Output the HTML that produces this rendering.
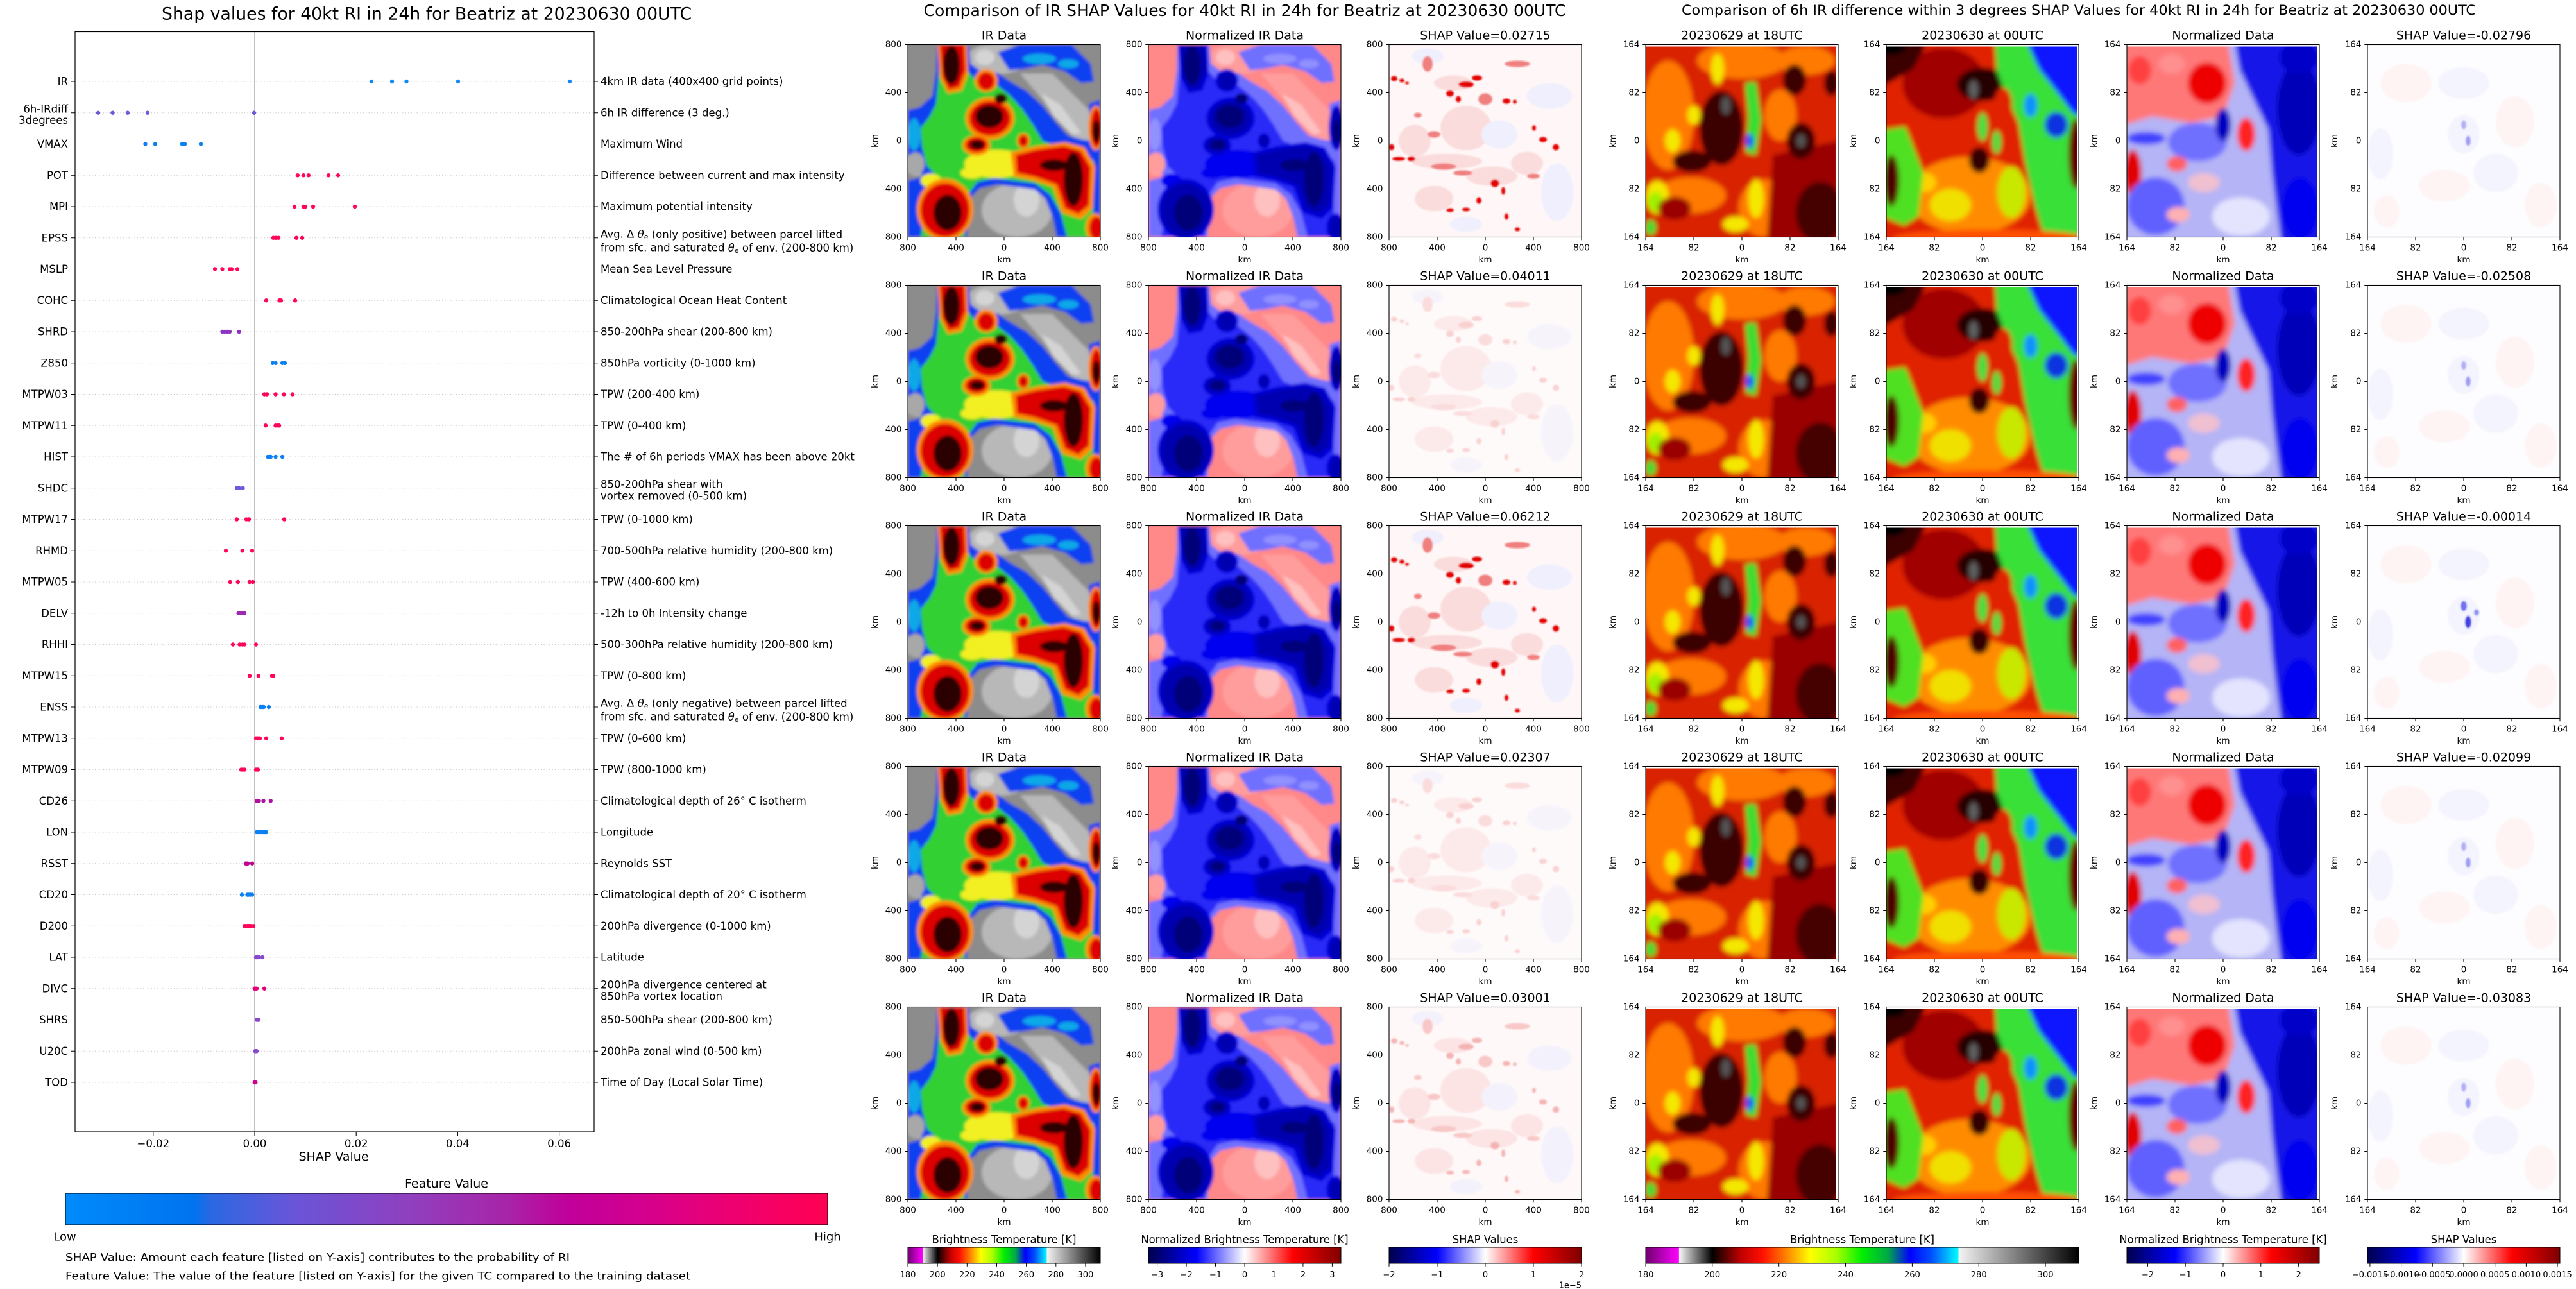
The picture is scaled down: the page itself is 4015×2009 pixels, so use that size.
<!DOCTYPE html>
<html><head><meta charset="utf-8">
<style>
html,body{margin:0;padding:0;background:#fff;}
svg{display:block}
text{font-family:"DejaVu Sans","Liberation Sans",sans-serif;fill:#000}
.ti{font-size:19px;text-anchor:middle;dominant-baseline:central}
.yt{font-size:13.5px;text-anchor:end;dominant-baseline:central}
.xt{font-size:13.5px;text-anchor:middle;dominant-baseline:central}
.ll{font-size:16.5px;text-anchor:end;dominant-baseline:central}
.rl{font-size:16.5px;text-anchor:start;dominant-baseline:central}
.bt{font-size:16.5px;text-anchor:middle;dominant-baseline:central}
.cbt{font-size:16.4px;text-anchor:middle;dominant-baseline:central}
.cbl{font-size:13px;text-anchor:middle;dominant-baseline:central}
.big{text-anchor:middle;dominant-baseline:central}
</style></head>
<body>
<svg width="4015" height="2009" viewBox="0 0 4015 2009" xmlns="http://www.w3.org/2000/svg">
<defs>
<clipPath id="cp"><rect width="300" height="300"/></clipPath>
<clipPath id="cq"><rect y="3" width="297" height="297"/></clipPath>
<filter id="bl" x="-10%" y="-10%" width="120%" height="120%"><feGaussianBlur stdDeviation="2.5"/></filter>
<filter id="bl4" x="-10%" y="-10%" width="120%" height="120%"><feGaussianBlur stdDeviation="4"/></filter>
<filter id="b2" x="-10%" y="-10%" width="120%" height="120%"><feGaussianBlur stdDeviation="1.2"/></filter>

<linearGradient id="gshap">
<stop offset="0" stop-color="#008bfb"/><stop offset="0.17" stop-color="#0073ef"/><stop offset="0.19" stop-color="#2a68e2"/><stop offset="0.3" stop-color="#6a55d8"/><stop offset="0.45" stop-color="#8f40bf"/><stop offset="0.58" stop-color="#a824a8"/><stop offset="0.66" stop-color="#c0009a"/><stop offset="0.75" stop-color="#d20090"/><stop offset="0.88" stop-color="#ef0070"/><stop offset="1" stop-color="#ff0052"/>
</linearGradient>
<linearGradient id="gbt">
<stop offset="0" stop-color="#6e006e"/><stop offset="0.0765" stop-color="#ff00ff"/><stop offset="0.077" stop-color="#f8f8f8"/><stop offset="0.154" stop-color="#000"/><stop offset="0.17" stop-color="#300000"/><stop offset="0.22" stop-color="#c00000"/><stop offset="0.27" stop-color="#ff1000"/><stop offset="0.32" stop-color="#ff7800"/><stop offset="0.38" stop-color="#ffff00"/><stop offset="0.44" stop-color="#a8ff00"/><stop offset="0.5" stop-color="#00f000"/><stop offset="0.56" stop-color="#00a848"/><stop offset="0.61" stop-color="#0000ff"/><stop offset="0.66" stop-color="#0050ff"/><stop offset="0.722" stop-color="#00ffff"/><stop offset="0.7225" stop-color="#f4f4f4"/><stop offset="1" stop-color="#000"/>
</linearGradient>
<linearGradient id="gsei">
<stop offset="0" stop-color="#00004c"/><stop offset="0.25" stop-color="#0000ff"/><stop offset="0.5" stop-color="#ffffff"/><stop offset="0.75" stop-color="#ff0000"/><stop offset="1" stop-color="#7f0000"/>
</linearGradient>

<!-- IR geometry layers -->
<g id="a0b"><ellipse cx="140" cy="22" rx="48" ry="24"/><polygon points="175,45 225,45 290,110 290,150 262,148 235,118 205,80"/><ellipse cx="170" cy="258" rx="55" ry="42"/><ellipse cx="14" cy="185" rx="18" ry="20"/></g>
<g id="a0c"><ellipse cx="185" cy="242" rx="20" ry="26"/><polygon points="208,76 238,94 270,138 255,140 226,110"/><ellipse cx="120" cy="20" rx="15" ry="12"/></g>
<g id="a1"><polygon points="45,0 95,0 98,30 118,45 140,44 160,58 185,72 210,95 232,122 250,142 272,148 300,152 300,300 232,300 226,270 214,240 198,226 170,222 140,218 112,224 96,240 92,300 0,300 0,212 22,206 18,185 0,172 0,102 18,98 38,80 44,40"/><polygon points="140,12 175,0 255,0 285,30 290,58 270,60 245,42 210,32 180,38 158,40"/><polygon points="282,92 300,86 300,180 286,172"/></g>
<g id="a2"><polygon points="50,0 90,0 92,40 110,60 140,64 160,80 178,100 195,125 210,150 240,162 270,168 290,182 288,300 248,300 238,262 222,234 198,216 165,212 135,208 108,214 94,234 88,300 20,300 28,250 40,222 46,205 30,190 22,160 20,130 34,112 44,92 48,50"/></g>
<g id="a2b"><ellipse cx="205" cy="22" rx="26" ry="8"/><ellipse cx="250" cy="30" rx="16" ry="7"/><ellipse cx="10" cy="140" rx="10" ry="25"/></g>
<g id="a7"><ellipse cx="12" cy="186" rx="14" ry="18"/></g>
<g id="a3"><ellipse cx="138" cy="186" rx="50" ry="22"/><ellipse cx="200" cy="180" rx="26" ry="14"/><ellipse cx="36" cy="212" rx="16" ry="11"/><ellipse cx="100" cy="200" rx="18" ry="9"/></g>
<g id="a4"><polygon points="46,0 92,0 94,45 84,72 62,76 50,52"/><ellipse cx="122" cy="56" rx="18" ry="18"/><ellipse cx="128" cy="115" rx="38" ry="33"/><ellipse cx="107" cy="157" rx="22" ry="16"/><ellipse cx="180" cy="150" rx="10" ry="12"/><polygon points="160,168 200,158 245,152 275,160 292,190 288,255 270,272 240,262 226,222 196,212 165,206"/><ellipse cx="58" cy="257" rx="44" ry="48"/><ellipse cx="293" cy="130" rx="12" ry="35"/><ellipse cx="292" cy="285" rx="15" ry="22"/></g>
<g id="a5"><polygon points="50,0 88,0 90,40 80,66 64,70 54,50"/><ellipse cx="122" cy="57" rx="13" ry="14"/><ellipse cx="128" cy="115" rx="32" ry="27"/><ellipse cx="107" cy="156" rx="17" ry="12"/><ellipse cx="180" cy="150" rx="7" ry="9"/><polygon points="168,172 200,164 243,158 270,166 285,192 282,250 266,264 245,255 232,218 198,206 170,200"/><ellipse cx="58" cy="258" rx="38" ry="42"/><ellipse cx="294" cy="130" rx="9" ry="30"/><ellipse cx="294" cy="286" rx="11" ry="18"/></g>
<g id="a6"><ellipse cx="68" cy="32" rx="13" ry="30"/><ellipse cx="145" cy="84" rx="10" ry="8"/><ellipse cx="127" cy="112" rx="22" ry="18"/><ellipse cx="108" cy="156" rx="11" ry="7"/><ellipse cx="258" cy="210" rx="15" ry="42"/><ellipse cx="62" cy="262" rx="22" ry="28"/><ellipse cx="228" cy="188" rx="22" ry="9"/><ellipse cx="294" cy="135" rx="6" ry="18"/></g>

<g id="ir" clip-path="url(#cp)"><g filter="url(#bl)"><rect x="-20" y="-20" width="340" height="340" fill="#8c8c8c"/><use href="#a0b" fill="#b8b8b8"/><use href="#a0c" fill="#d4d4d4"/><use href="#a1" fill="#1040f0"/><use href="#a2" fill="#30d030"/><use href="#a2b" fill="#10a8e8"/><use href="#a7" fill="#a8a8a8"/><use href="#a3" fill="#f2f020"/><use href="#a4" fill="#ff8c00"/><use href="#a5" fill="#dc0000"/><use href="#a6" fill="#2a0000"/></g></g>
<g id="nir" clip-path="url(#cp)"><g filter="url(#bl)"><rect x="-20" y="-20" width="340" height="340" fill="#ff8888"/><use href="#a0b" fill="#ff9c9c"/><use href="#a0c" fill="#ffc0c0"/><use href="#a1" fill="#7070ff"/><use href="#a2" fill="#2a2af8"/><use href="#a2b" fill="#9090ff"/><use href="#a7" fill="#ff9c9c"/><use href="#a3" fill="#0000f0"/><use href="#a4" fill="#0000d8"/><use href="#a5" fill="#0000b0"/><use href="#a6" fill="#000078"/></g></g>

<!-- SHAP middle -->
<g id="shpat">
<g fill="#fbdcdc"><ellipse cx="120" cy="130" rx="40" ry="35"/><ellipse cx="90" cy="182" rx="55" ry="12"/><ellipse cx="160" cy="205" rx="40" ry="15"/><ellipse cx="215" cy="185" rx="25" ry="18"/><ellipse cx="70" cy="240" rx="30" ry="20"/><ellipse cx="100" cy="60" rx="30" ry="12"/><ellipse cx="40" cy="150" rx="25" ry="25"/></g>
<g fill="#efeffd"><ellipse cx="172" cy="140" rx="28" ry="22"/><ellipse cx="262" cy="230" rx="25" ry="45"/><ellipse cx="60" cy="18" rx="25" ry="12"/><ellipse cx="250" cy="80" rx="35" ry="20"/><ellipse cx="120" cy="280" rx="25" ry="12"/></g>
</g>
<g id="spk"><ellipse cx="8" cy="53" rx="5" ry="4"/><ellipse cx="20" cy="56" rx="4" ry="3"/><ellipse cx="28" cy="60" rx="3" ry="2"/><ellipse cx="95" cy="76" rx="6" ry="5"/><ellipse cx="108" cy="85" rx="4" ry="5"/><ellipse cx="120" cy="62" rx="12" ry="5"/><ellipse cx="137" cy="52" rx="8" ry="4"/><ellipse cx="183" cy="88" rx="6" ry="4"/><ellipse cx="196" cy="89" rx="3" ry="3"/><ellipse cx="4" cy="160" rx="4" ry="5"/><ellipse cx="15" cy="178" rx="10" ry="3"/><ellipse cx="35" cy="178" rx="6" ry="4"/><ellipse cx="226" cy="130" rx="3" ry="4"/><ellipse cx="240" cy="148" rx="6" ry="4"/><ellipse cx="260" cy="160" rx="5" ry="5"/><ellipse cx="165" cy="216" rx="7" ry="6"/><ellipse cx="178" cy="228" rx="3" ry="6"/><ellipse cx="140" cy="243" rx="4" ry="5"/><ellipse cx="120" cy="257" rx="6" ry="3"/><ellipse cx="95" cy="258" rx="6" ry="3"/><ellipse cx="183" cy="268" rx="3" ry="5"/><ellipse cx="200" cy="288" rx="4" ry="3"/></g>
<g id="spk2"><ellipse cx="150" cy="85" rx="11" ry="9"/><ellipse cx="85" cy="190" rx="20" ry="5"/><ellipse cx="115" cy="200" rx="15" ry="4"/><ellipse cx="225" cy="205" rx="10" ry="4"/><ellipse cx="70" cy="140" rx="10" ry="5"/><ellipse cx="45" cy="110" rx="6" ry="4"/><ellipse cx="60" cy="30" rx="8" ry="12"/><ellipse cx="200" cy="30" rx="20" ry="5"/></g>
<g id="shs" clip-path="url(#cp)"><rect width="300" height="300" fill="#fff7f7"/><g filter="url(#b2)"><use href="#shpat"/><use href="#spk2" fill="#f08080"/><use href="#spk" fill="#e40000"/></g></g>
<g id="shf" clip-path="url(#cp)"><rect width="300" height="300" fill="#fffafa"/><g filter="url(#b2)" opacity="0.55"><use href="#shpat"/><use href="#spk2" fill="#f8c4c4"/><use href="#spk" fill="#f4b0b0"/></g></g>
<g id="shf2" clip-path="url(#cp)"><rect width="300" height="300" fill="#fff8f8"/><g filter="url(#b2)" opacity="0.7"><use href="#shpat"/><use href="#spk2" fill="#f6b4b4"/><use href="#spk" fill="#f09898"/></g></g>

<!-- right group images -->
<g id="t18" clip-path="url(#cq)"><g filter="url(#bl4)"><rect x="-20" y="-20" width="340" height="340" fill="#d82000"/>
<g fill="#ff7a00"><ellipse cx="35" cy="110" rx="40" ry="85"/><ellipse cx="150" cy="25" rx="70" ry="28"/><ellipse cx="70" cy="235" rx="55" ry="28"/><ellipse cx="185" cy="255" rx="40" ry="45"/><ellipse cx="250" cy="25" rx="45" ry="22"/><ellipse cx="210" cy="110" rx="25" ry="40"/></g>
<g fill="#f4e800"><ellipse cx="18" cy="238" rx="18" ry="26"/><ellipse cx="112" cy="38" rx="10" ry="24"/><ellipse cx="42" cy="150" rx="12" ry="18"/><ellipse cx="172" cy="240" rx="12" ry="30"/><ellipse cx="140" cy="280" rx="20" ry="12"/><ellipse cx="75" cy="110" rx="10" ry="15"/></g>
<ellipse cx="15" cy="245" rx="12" ry="15" fill="#a0f000"/>
<polygon points="155,60 172,58 180,118 172,172 156,168 160,112" fill="#30e030"/><ellipse cx="8" cy="285" rx="8" ry="12" fill="#30e030"/>
<ellipse cx="162" cy="150" rx="6" ry="11" fill="#1050ff"/>
<polygon points="198,172 300,150 300,320 188,320" fill="#9a0000"/><ellipse cx="45" cy="255" rx="26" ry="18" fill="#9a0000"/>
<ellipse cx="272" cy="262" rx="38" ry="48" fill="#450000"/>
<g fill="#3a0000"><ellipse cx="118" cy="130" rx="34" ry="58"/><ellipse cx="72" cy="182" rx="30" ry="17"/><ellipse cx="232" cy="55" rx="18" ry="24"/><ellipse cx="242" cy="150" rx="22" ry="28"/><ellipse cx="290" cy="60" rx="12" ry="20"/></g>
<g fill="#555"><ellipse cx="125" cy="95" rx="7" ry="14"/><ellipse cx="242" cy="150" rx="7" ry="10"/></g>
</g></g>
<g id="t00" clip-path="url(#cq)"><g filter="url(#bl4)"><rect x="-20" y="-20" width="340" height="340" fill="#e02000"/>
<ellipse cx="90" cy="60" rx="65" ry="55" fill="#a00000"/>
<polygon points="-20,-20 62,-20 62,0 42,38 0,62 -20,62" fill="#3a0000"/><ellipse cx="8" cy="4" rx="22" ry="12" fill="#000"/>
<ellipse cx="150" cy="62" rx="40" ry="26" fill="#250000"/><ellipse cx="136" cy="70" rx="7" ry="14" fill="#606060"/>
<ellipse cx="130" cy="235" rx="95" ry="60" fill="#ff8c00"/>
<ellipse cx="100" cy="250" rx="32" ry="25" fill="#f0e000"/><ellipse cx="195" cy="230" rx="22" ry="40" fill="#c8e800"/><ellipse cx="60" cy="215" rx="18" ry="15" fill="#ffd000"/>
<polygon points="168,-20 320,-20 320,320 252,320 232,252 216,182 206,122 188,82 172,40" fill="#38e038"/>
<polygon points="212,-20 320,-20 320,115 292,108 266,74 238,38" fill="#0818ff"/><ellipse cx="265" cy="125" rx="18" ry="20" fill="#1030e0"/><ellipse cx="225" cy="95" rx="10" ry="18" fill="#1090ff"/>
<ellipse cx="182" cy="92" rx="14" ry="25" fill="#e02000"/>
<ellipse cx="296" cy="170" rx="12" ry="55" fill="#600000"/>
<polygon points="-20,135 30,128 58,200 50,268 28,282 -20,262" fill="#50e020"/><ellipse cx="8" cy="212" rx="12" ry="40" fill="#500000"/>
<ellipse cx="145" cy="180" rx="16" ry="20" fill="#300000"/>
<ellipse cx="150" cy="128" rx="8" ry="22" fill="#40e040"/><ellipse cx="172" cy="152" rx="7" ry="18" fill="#40e040"/>
<ellipse cx="160" cy="302" rx="150" ry="14" fill="#ff5000"/>
</g></g>
<g id="nrm" clip-path="url(#cq)"><g filter="url(#bl4)"><rect x="-20" y="-20" width="340" height="340" fill="#b4b4f6"/>
<polygon points="-20,-20 155,-20 168,60 150,112 100,122 40,112 -20,130" fill="#ff7878"/>
<ellipse cx="125" cy="60" rx="30" ry="32" fill="#ee0000"/><ellipse cx="20" cy="40" rx="18" ry="22" fill="#ff4040"/><ellipse cx="70" cy="30" rx="20" ry="15" fill="#ff9090"/>
<polygon points="165,-20 320,-20 320,320 242,320 226,200 220,132 196,82 176,40" fill="#1818e8"/>
<ellipse cx="268" cy="100" rx="34" ry="72" fill="#0000b8"/><ellipse cx="268" cy="20" rx="30" ry="25" fill="#0000c8"/>
<ellipse cx="270" cy="255" rx="28" ry="48" fill="#0000f0"/>
<ellipse cx="178" cy="268" rx="45" ry="30" fill="#e4e4ff"/>
<ellipse cx="110" cy="152" rx="46" ry="30" fill="#7070ff"/><ellipse cx="150" cy="125" rx="12" ry="26" fill="#0000c0"/>
<ellipse cx="186" cy="140" rx="14" ry="26" fill="#ff2020"/>
<ellipse cx="9" cy="200" rx="14" ry="36" fill="#e00000"/>
<ellipse cx="30" cy="146" rx="30" ry="10" fill="#4040ff"/>
<ellipse cx="45" cy="252" rx="45" ry="45" fill="#6060ff"/><ellipse cx="80" cy="265" rx="18" ry="12" fill="#ffb0b0"/>
<ellipse cx="78" cy="186" rx="16" ry="12" fill="#ff6060"/>
<ellipse cx="120" cy="215" rx="25" ry="15" fill="#f0c0d0"/>
</g></g>
<g id="shrp"><g fill="#fef4f4"><ellipse cx="60" cy="60" rx="40" ry="30"/><ellipse cx="230" cy="120" rx="30" ry="40"/><ellipse cx="120" cy="220" rx="40" ry="25"/><ellipse cx="270" cy="250" rx="25" ry="35"/><ellipse cx="30" cy="260" rx="20" ry="25"/></g><g fill="#f4f4fe"><ellipse cx="150" cy="60" rx="40" ry="25"/><ellipse cx="20" cy="170" rx="20" ry="40"/><ellipse cx="200" cy="200" rx="35" ry="30"/><ellipse cx="150" cy="140" rx="25" ry="30"/></g></g>
<g id="shr" clip-path="url(#cq)"><rect y="3" width="297" height="297" fill="#fdfdff"/><g filter="url(#b2)"><use href="#shrp"/><ellipse cx="150" cy="125" rx="4" ry="7" fill="#b0b0f6"/><ellipse cx="157" cy="150" rx="4" ry="8" fill="#9c9cf2"/></g></g>
<g id="shr3" clip-path="url(#cq)"><rect y="3" width="297" height="297" fill="#fdfdff"/><g filter="url(#b2)"><use href="#shrp"/><ellipse cx="150" cy="125" rx="5" ry="8" fill="#7070f0"/><ellipse cx="157" cy="150" rx="5" ry="10" fill="#4040e0"/><ellipse cx="170" cy="135" rx="4" ry="5" fill="#9090f0"/></g></g>

<g id="fr"><rect width="300" height="300" fill="none" stroke="#000" stroke-width="1.1"/><path d="M-4.7 0H0M-4.7 75H0M-4.7 150H0M-4.7 225H0M-4.7 300H0M0 300V304.7M75 300V304.7M150 300V304.7M225 300V304.7M300 300V304.7" stroke="#000" stroke-width="1.1"/></g>
</defs>

<rect width="4015" height="2009" fill="#fff"/>

<!-- ================= LEFT PANEL ================= -->
<text class="big" x="665" y="22" font-size="26.6" textLength="826" lengthAdjust="spacingAndGlyphs">Shap values for 40kt RI in 24h for Beatriz at 20230630 00UTC</text>
<path d="M117 127H926M117 175.75H926M117 224.5H926M117 273.25H926M117 322H926M117 370.75H926M117 419.5H926M117 468.25H926M117 517H926M117 565.75H926M117 614.5H926M117 663.25H926M117 712H926M117 760.75H926M117 809.5H926M117 858.25H926M117 907H926M117 955.75H926M117 1004.5H926M117 1053.25H926M117 1102H926M117 1150.75H926M117 1199.5H926M117 1248.25H926M117 1297H926M117 1345.75H926M117 1394.5H926M117 1443.25H926M117 1492H926M117 1540.75H926M117 1589.5H926M117 1638.25H926M117 1687H926" stroke="#c4c4c4" stroke-width="1" stroke-dasharray="1.2 3.2" fill="none"/>
<line x1="397" y1="49.5" x2="397" y2="1764" stroke="#999" stroke-width="1.2"/>
<rect x="117" y="49.5" width="809" height="1714.5" fill="none" stroke="#000" stroke-width="1.2"/>
<path d="M111 127H117M926 127H932M111 175.75H117M926 175.75H932M111 224.5H117M926 224.5H932M111 273.25H117M926 273.25H932M111 322H117M926 322H932M111 370.75H117M926 370.75H932M111 419.5H117M926 419.5H932M111 468.25H117M926 468.25H932M111 517H117M926 517H932M111 565.75H117M926 565.75H932M111 614.5H117M926 614.5H932M111 663.25H117M926 663.25H932M111 712H117M926 712H932M111 760.75H117M926 760.75H932M111 809.5H117M926 809.5H932M111 858.25H117M926 858.25H932M111 907H117M926 907H932M111 955.75H117M926 955.75H932M111 1004.5H117M926 1004.5H932M111 1053.25H117M926 1053.25H932M111 1102H117M926 1102H932M111 1150.75H117M926 1150.75H932M111 1199.5H117M926 1199.5H932M111 1248.25H117M926 1248.25H932M111 1297H117M926 1297H932M111 1345.75H117M926 1345.75H932M111 1394.5H117M926 1394.5H932M111 1443.25H117M926 1443.25H932M111 1492H117M926 1492H932M111 1540.75H117M926 1540.75H932M111 1589.5H117M926 1589.5H932M111 1638.25H117M926 1638.25H932M111 1687H117M926 1687H932M238.8 1764V1770M397 1764V1770M555.2 1764V1770M713.4 1764V1770M871.6 1764V1770" stroke="#000" stroke-width="1.1"/>

<!-- dots -->
<g fill="#1188f5"><circle cx="579" cy="127" r="3.2"/><circle cx="611" cy="127" r="3.2"/><circle cx="633.5" cy="127" r="3.2"/><circle cx="714" cy="127" r="3.2"/><circle cx="888" cy="127" r="3.2"/></g>
<g fill="#7058d8"><circle cx="153" cy="175.75" r="3.2"/><circle cx="175.5" cy="175.75" r="3.2"/><circle cx="199" cy="175.75" r="3.2"/><circle cx="230" cy="175.75" r="3.2"/><circle cx="396" cy="175.75" r="3.2"/></g>
<g fill="#0c7ff2"><circle cx="226.5" cy="224.5" r="3.2"/><circle cx="242" cy="224.5" r="3.2"/><circle cx="284" cy="224.5" r="3.2"/><circle cx="288" cy="224.5" r="3.2"/><circle cx="313" cy="224.5" r="3.2"/></g>
<g fill="#ff0658">
<circle cx="464" cy="273.25" r="3.2"/><circle cx="473" cy="273.25" r="3.2"/><circle cx="481" cy="273.25" r="3.2"/><circle cx="512" cy="273.25" r="3.2"/><circle cx="527" cy="273.25" r="3.2"/>
<circle cx="459" cy="322" r="3.2"/><circle cx="473" cy="322" r="3.2"/><circle cx="476" cy="322" r="3.2"/><circle cx="488" cy="322" r="3.2"/><circle cx="553" cy="322" r="3.2"/>
<circle cx="426" cy="370.75" r="3.2"/><circle cx="430" cy="370.75" r="3.2"/><circle cx="434" cy="370.75" r="3.2"/><circle cx="462" cy="370.75" r="3.2"/><circle cx="471" cy="370.75" r="3.2"/>
<circle cx="335" cy="419.5" r="3.2"/><circle cx="346.5" cy="419.5" r="3.2"/><circle cx="358" cy="419.5" r="3.2"/><circle cx="361" cy="419.5" r="3.2"/><circle cx="370" cy="419.5" r="3.2"/>
<circle cx="415" cy="468.25" r="3.2"/><circle cx="435.5" cy="468.25" r="3.2"/><circle cx="438" cy="468.25" r="3.2"/><circle cx="460" cy="468.25" r="3.2"/>
<circle cx="412" cy="614.5" r="3.2"/><circle cx="416" cy="614.5" r="3.2"/><circle cx="429.5" cy="614.5" r="3.2"/><circle cx="442.5" cy="614.5" r="3.2"/><circle cx="456" cy="614.5" r="3.2"/>
<circle cx="414" cy="663.25" r="3.2"/><circle cx="429.5" cy="663.25" r="3.2"/><circle cx="433" cy="663.25" r="3.2"/><circle cx="435" cy="663.25" r="3.2"/>
<circle cx="369" cy="809.5" r="3.2"/><circle cx="384" cy="809.5" r="3.2"/><circle cx="388" cy="809.5" r="3.2"/><circle cx="443" cy="809.5" r="3.2"/>
<circle cx="352" cy="858.25" r="3.2"/><circle cx="377.7" cy="858.25" r="3.2"/><circle cx="393" cy="858.25" r="3.2"/>
<circle cx="358.7" cy="907" r="3.2"/><circle cx="370.8" cy="907" r="3.2"/><circle cx="389" cy="907" r="3.2"/><circle cx="394" cy="907" r="3.2"/>
<circle cx="363" cy="1004.5" r="3.2"/><circle cx="373.4" cy="1004.5" r="3.2"/><circle cx="378" cy="1004.5" r="3.2"/><circle cx="381" cy="1004.5" r="3.2"/><circle cx="399" cy="1004.5" r="3.2"/>
<circle cx="389" cy="1053.25" r="3.2"/><circle cx="402.8" cy="1053.25" r="3.2"/><circle cx="424" cy="1053.25" r="3.2"/><circle cx="426" cy="1053.25" r="3.2"/>
<circle cx="399" cy="1150.75" r="3.2"/><circle cx="402" cy="1150.75" r="3.2"/><circle cx="405" cy="1150.75" r="3.2"/><circle cx="415" cy="1150.75" r="3.2"/><circle cx="439" cy="1150.75" r="3.2"/>
<circle cx="376" cy="1199.5" r="3.2"/><circle cx="378.5" cy="1199.5" r="3.2"/><circle cx="381" cy="1199.5" r="3.2"/><circle cx="399" cy="1199.5" r="3.2"/><circle cx="402" cy="1199.5" r="3.2"/>
<circle cx="381" cy="1443.25" r="3.2"/><circle cx="383" cy="1443.25" r="3.2"/><circle cx="386" cy="1443.25" r="3.2"/><circle cx="388" cy="1443.25" r="3.2"/><circle cx="390.7" cy="1443.25" r="3.2"/><circle cx="395" cy="1443.25" r="3.2"/>
</g>
<g fill="#8c35c2"><circle cx="346.5" cy="517" r="3.2"/><circle cx="350" cy="517" r="3.2"/><circle cx="354" cy="517" r="3.2"/><circle cx="358" cy="517" r="3.2"/><circle cx="372.5" cy="517" r="3.2"/></g>
<g fill="#0a80f4"><circle cx="425" cy="565.75" r="3.2"/><circle cx="429.5" cy="565.75" r="3.2"/><circle cx="440" cy="565.75" r="3.2"/><circle cx="444" cy="565.75" r="3.2"/>
<circle cx="417.5" cy="712" r="3.2"/><circle cx="420" cy="712" r="3.2"/><circle cx="422" cy="712" r="3.2"/><circle cx="429.5" cy="712" r="3.2"/><circle cx="440" cy="712" r="3.2"/>
<circle cx="406" cy="1102" r="3.2"/><circle cx="409" cy="1102" r="3.2"/><circle cx="411" cy="1102" r="3.2"/><circle cx="419" cy="1102" r="3.2"/>
<circle cx="400" cy="1297" r="3.2"/><circle cx="403" cy="1297" r="3.2"/><circle cx="405" cy="1297" r="3.2"/><circle cx="408" cy="1297" r="3.2"/><circle cx="410.5" cy="1297" r="3.2"/><circle cx="413" cy="1297" r="3.2"/><circle cx="415" cy="1297" r="3.2"/>
<circle cx="377" cy="1394.5" r="3.2"/><circle cx="385.5" cy="1394.5" r="3.2"/><circle cx="388" cy="1394.5" r="3.2"/><circle cx="390" cy="1394.5" r="3.2"/><circle cx="393" cy="1394.5" r="3.2"/></g>
<g fill="#6e5ad8"><circle cx="369" cy="760.75" r="3.2"/><circle cx="372.5" cy="760.75" r="3.2"/><circle cx="378.5" cy="760.75" r="3.2"/></g>
<g fill="#9c2ab2"><circle cx="371.6" cy="955.75" r="3.2"/><circle cx="374" cy="955.75" r="3.2"/><circle cx="376" cy="955.75" r="3.2"/><circle cx="378.5" cy="955.75" r="3.2"/><circle cx="381" cy="955.75" r="3.2"/></g>
<g fill="#b0109e"><circle cx="400" cy="1248.25" r="3.2"/><circle cx="403.6" cy="1248.25" r="3.2"/><circle cx="410.5" cy="1248.25" r="3.2"/><circle cx="421.8" cy="1248.25" r="3.2"/></g>
<g fill="#c0038f"><circle cx="383" cy="1345.75" r="3.2"/><circle cx="385" cy="1345.75" r="3.2"/><circle cx="386" cy="1345.75" r="3.2"/><circle cx="393" cy="1345.75" r="3.2"/></g>
<g fill="#8648cc"><circle cx="399" cy="1492" r="3.2"/><circle cx="401" cy="1492" r="3.2"/><circle cx="403.6" cy="1492" r="3.2"/><circle cx="409" cy="1492" r="3.2"/>
<circle cx="400" cy="1589.5" r="3.2"/><circle cx="402" cy="1589.5" r="3.2"/><circle cx="403" cy="1589.5" r="3.2"/>
<circle cx="397.6" cy="1638.25" r="3.2"/><circle cx="399" cy="1638.25" r="3.2"/><circle cx="400" cy="1638.25" r="3.2"/></g>
<g fill="#e00276"><circle cx="396.7" cy="1540.75" r="3.2"/><circle cx="398" cy="1540.75" r="3.2"/><circle cx="400" cy="1540.75" r="3.2"/><circle cx="412" cy="1540.75" r="3.2"/></g>
<g fill="#d0008a"><circle cx="396.7" cy="1687" r="3.2"/><circle cx="398.4" cy="1687" r="3.2"/></g>

<!-- left labels -->
<text class="ll" x="106" y="127">IR</text>
<text class="ll" x="106" y="170">6h-IRdiff</text>
<text class="ll" x="106" y="187.5">3degrees</text>
<text class="ll" x="106" y="224.5">VMAX</text>
<text class="ll" x="106" y="273.25">POT</text>
<text class="ll" x="106" y="322">MPI</text>
<text class="ll" x="106" y="370.75">EPSS</text>
<text class="ll" x="106" y="419.5">MSLP</text>
<text class="ll" x="106" y="468.25">COHC</text>
<text class="ll" x="106" y="517">SHRD</text>
<text class="ll" x="106" y="565.75">Z850</text>
<text class="ll" x="106" y="614.5">MTPW03</text>
<text class="ll" x="106" y="663.25">MTPW11</text>
<text class="ll" x="106" y="712">HIST</text>
<text class="ll" x="106" y="760.75">SHDC</text>
<text class="ll" x="106" y="809.5">MTPW17</text>
<text class="ll" x="106" y="858.25">RHMD</text>
<text class="ll" x="106" y="907">MTPW05</text>
<text class="ll" x="106" y="955.75">DELV</text>
<text class="ll" x="106" y="1004.5">RHHI</text>
<text class="ll" x="106" y="1053.25">MTPW15</text>
<text class="ll" x="106" y="1102">ENSS</text>
<text class="ll" x="106" y="1150.75">MTPW13</text>
<text class="ll" x="106" y="1199.5">MTPW09</text>
<text class="ll" x="106" y="1248.25">CD26</text>
<text class="ll" x="106" y="1297">LON</text>
<text class="ll" x="106" y="1345.75">RSST</text>
<text class="ll" x="106" y="1394.5">CD20</text>
<text class="ll" x="106" y="1443.25">D200</text>
<text class="ll" x="106" y="1492">LAT</text>
<text class="ll" x="106" y="1540.75">DIVC</text>
<text class="ll" x="106" y="1589.5">SHRS</text>
<text class="ll" x="106" y="1638.25">U20C</text>
<text class="ll" x="106" y="1687">TOD</text>

<!-- right labels -->
<text class="rl" x="936" y="127">4km IR data (400x400 grid points)</text>
<text class="rl" x="936" y="175.75">6h IR difference (3 deg.)</text>
<text class="rl" x="936" y="224.5">Maximum Wind</text>
<text class="rl" x="936" y="273.25">Difference between current and max intensity</text>
<text class="rl" x="936" y="322">Maximum potential intensity</text>
<text class="rl" x="936" y="364.75">Avg. Δ <tspan font-style="italic">θ</tspan><tspan font-size="11" dy="4">e</tspan><tspan dy="-4"> (only positive) between parcel lifted</tspan></text>
<text class="rl" x="936" y="385.75">from sfc. and saturated <tspan font-style="italic">θ</tspan><tspan font-size="11" dy="4">e</tspan><tspan dy="-4"> of env. (200-800 km)</tspan></text>
<text class="rl" x="936" y="419.5">Mean Sea Level Pressure</text>
<text class="rl" x="936" y="468.25">Climatological Ocean Heat Content</text>
<text class="rl" x="936" y="517">850-200hPa shear (200-800 km)</text>
<text class="rl" x="936" y="565.75">850hPa vorticity (0-1000 km)</text>
<text class="rl" x="936" y="614.5">TPW (200-400 km)</text>
<text class="rl" x="936" y="663.25">TPW (0-400 km)</text>
<text class="rl" x="936" y="712">The # of 6h periods VMAX has been above 20kt</text>
<text class="rl" x="936" y="754.75">850-200hPa shear with</text>
<text class="rl" x="936" y="772.75">vortex removed (0-500 km)</text>
<text class="rl" x="936" y="809.5">TPW (0-1000 km)</text>
<text class="rl" x="936" y="858.25">700-500hPa relative humidity (200-800 km)</text>
<text class="rl" x="936" y="907">TPW (400-600 km)</text>
<text class="rl" x="936" y="955.75">-12h to 0h Intensity change</text>
<text class="rl" x="936" y="1004.5">500-300hPa relative humidity (200-800 km)</text>
<text class="rl" x="936" y="1053.25">TPW (0-800 km)</text>
<text class="rl" x="936" y="1096">Avg. Δ <tspan font-style="italic">θ</tspan><tspan font-size="11" dy="4">e</tspan><tspan dy="-4"> (only negative) between parcel lifted</tspan></text>
<text class="rl" x="936" y="1117">from sfc. and saturated <tspan font-style="italic">θ</tspan><tspan font-size="11" dy="4">e</tspan><tspan dy="-4"> of env. (200-800 km)</tspan></text>
<text class="rl" x="936" y="1150.75">TPW (0-600 km)</text>
<text class="rl" x="936" y="1199.5">TPW (800-1000 km)</text>
<text class="rl" x="936" y="1248.25">Climatological depth of 26° C isotherm</text>
<text class="rl" x="936" y="1297">Longitude</text>
<text class="rl" x="936" y="1345.75">Reynolds SST</text>
<text class="rl" x="936" y="1394.5">Climatological depth of 20° C isotherm</text>
<text class="rl" x="936" y="1443.25">200hPa divergence (0-1000 km)</text>
<text class="rl" x="936" y="1492">Latitude</text>
<text class="rl" x="936" y="1534.75">200hPa divergence centered at</text>
<text class="rl" x="936" y="1552.75">850hPa vortex location</text>
<text class="rl" x="936" y="1589.5">850-500hPa shear (200-800 km)</text>
<text class="rl" x="936" y="1638.25">200hPa zonal wind (0-500 km)</text>
<text class="rl" x="936" y="1687">Time of Day (Local Solar Time)</text>

<text class="bt"><tspan x="238.8" y="1782">−0.02</tspan><tspan x="397" y="1782">0.00</tspan><tspan x="555.2" y="1782">0.02</tspan><tspan x="713.4" y="1782">0.04</tspan><tspan x="871.6" y="1782">0.06</tspan></text>
<text class="big" x="520" y="1803" font-size="19">SHAP Value</text>
<text class="big" x="696" y="1845" font-size="19">Feature Value</text>
<rect x="102" y="1860" width="1188" height="49" fill="url(#gshap)" stroke="#000" stroke-width="1"/>
<text class="big" x="101" y="1928" font-size="18">Low</text>
<text class="big" x="1290" y="1928" font-size="18">High</text>
<text x="102" y="1960" font-size="16.5" dominant-baseline="central" textLength="786" lengthAdjust="spacingAndGlyphs">SHAP Value: Amount each feature [listed on Y-axis] contributes to the probability of RI</text>
<text x="102" y="1989" font-size="16.5" dominant-baseline="central" textLength="974" lengthAdjust="spacingAndGlyphs">Feature Value: The value of the feature [listed on Y-axis] for the given TC compared to the training dataset</text>

<!-- ================= MIDDLE GROUP ================= -->
<text class="big" x="1940" y="16.7" font-size="25" textLength="1001" lengthAdjust="spacingAndGlyphs">Comparison of IR SHAP Values for 40kt RI in 24h for Beatriz at 20230630 00UTC</text>

<!-- row 1 -->
<g transform="translate(1415,69.5)"><use href="#ir"/><use href="#fr"/><text class="ti" x="150" y="-14">IR Data</text><text class="yt"><tspan x="-9.5" y="0">800</tspan><tspan x="-9.5" y="75">400</tspan><tspan x="-9.5" y="150">0</tspan><tspan x="-9.5" y="225">400</tspan><tspan x="-9.5" y="300">800</tspan></text><text class="xt"><tspan x="0" y="317">800</tspan><tspan x="75" y="317">400</tspan><tspan x="150" y="317">0</tspan><tspan x="225" y="317">400</tspan><tspan x="300" y="317">800</tspan><tspan x="150" y="335.5">km</tspan></text><text class="xt" transform="translate(-51,150) rotate(-90)">km</text></g>
<g transform="translate(1790,69.5)"><use href="#nir"/><use href="#fr"/><text class="ti" x="150" y="-14">Normalized IR Data</text><text class="yt"><tspan x="-9.5" y="0">800</tspan><tspan x="-9.5" y="75">400</tspan><tspan x="-9.5" y="150">0</tspan><tspan x="-9.5" y="225">400</tspan><tspan x="-9.5" y="300">800</tspan></text><text class="xt"><tspan x="0" y="317">800</tspan><tspan x="75" y="317">400</tspan><tspan x="150" y="317">0</tspan><tspan x="225" y="317">400</tspan><tspan x="300" y="317">800</tspan><tspan x="150" y="335.5">km</tspan></text><text class="xt" transform="translate(-51,150) rotate(-90)">km</text></g>
<g transform="translate(2165,69.5)"><use href="#shs"/><use href="#fr"/><text class="ti" x="150" y="-14">SHAP Value=0.02715</text><text class="yt"><tspan x="-9.5" y="0">800</tspan><tspan x="-9.5" y="75">400</tspan><tspan x="-9.5" y="150">0</tspan><tspan x="-9.5" y="225">400</tspan><tspan x="-9.5" y="300">800</tspan></text><text class="xt"><tspan x="0" y="317">800</tspan><tspan x="75" y="317">400</tspan><tspan x="150" y="317">0</tspan><tspan x="225" y="317">400</tspan><tspan x="300" y="317">800</tspan><tspan x="150" y="335.5">km</tspan></text><text class="xt" transform="translate(-51,150) rotate(-90)">km</text></g>
<!-- row 2 -->
<g transform="translate(1415,444.5)"><use href="#ir"/><use href="#fr"/><text class="ti" x="150" y="-14">IR Data</text><text class="yt"><tspan x="-9.5" y="0">800</tspan><tspan x="-9.5" y="75">400</tspan><tspan x="-9.5" y="150">0</tspan><tspan x="-9.5" y="225">400</tspan><tspan x="-9.5" y="300">800</tspan></text><text class="xt"><tspan x="0" y="317">800</tspan><tspan x="75" y="317">400</tspan><tspan x="150" y="317">0</tspan><tspan x="225" y="317">400</tspan><tspan x="300" y="317">800</tspan><tspan x="150" y="335.5">km</tspan></text><text class="xt" transform="translate(-51,150) rotate(-90)">km</text></g>
<g transform="translate(1790,444.5)"><use href="#nir"/><use href="#fr"/><text class="ti" x="150" y="-14">Normalized IR Data</text><text class="yt"><tspan x="-9.5" y="0">800</tspan><tspan x="-9.5" y="75">400</tspan><tspan x="-9.5" y="150">0</tspan><tspan x="-9.5" y="225">400</tspan><tspan x="-9.5" y="300">800</tspan></text><text class="xt"><tspan x="0" y="317">800</tspan><tspan x="75" y="317">400</tspan><tspan x="150" y="317">0</tspan><tspan x="225" y="317">400</tspan><tspan x="300" y="317">800</tspan><tspan x="150" y="335.5">km</tspan></text><text class="xt" transform="translate(-51,150) rotate(-90)">km</text></g>
<g transform="translate(2165,444.5)"><use href="#shf"/><use href="#fr"/><text class="ti" x="150" y="-14">SHAP Value=0.04011</text><text class="yt"><tspan x="-9.5" y="0">800</tspan><tspan x="-9.5" y="75">400</tspan><tspan x="-9.5" y="150">0</tspan><tspan x="-9.5" y="225">400</tspan><tspan x="-9.5" y="300">800</tspan></text><text class="xt"><tspan x="0" y="317">800</tspan><tspan x="75" y="317">400</tspan><tspan x="150" y="317">0</tspan><tspan x="225" y="317">400</tspan><tspan x="300" y="317">800</tspan><tspan x="150" y="335.5">km</tspan></text><text class="xt" transform="translate(-51,150) rotate(-90)">km</text></g>
<!-- row 3 -->
<g transform="translate(1415,819.5)"><use href="#ir"/><use href="#fr"/><text class="ti" x="150" y="-14">IR Data</text><text class="yt"><tspan x="-9.5" y="0">800</tspan><tspan x="-9.5" y="75">400</tspan><tspan x="-9.5" y="150">0</tspan><tspan x="-9.5" y="225">400</tspan><tspan x="-9.5" y="300">800</tspan></text><text class="xt"><tspan x="0" y="317">800</tspan><tspan x="75" y="317">400</tspan><tspan x="150" y="317">0</tspan><tspan x="225" y="317">400</tspan><tspan x="300" y="317">800</tspan><tspan x="150" y="335.5">km</tspan></text><text class="xt" transform="translate(-51,150) rotate(-90)">km</text></g>
<g transform="translate(1790,819.5)"><use href="#nir"/><use href="#fr"/><text class="ti" x="150" y="-14">Normalized IR Data</text><text class="yt"><tspan x="-9.5" y="0">800</tspan><tspan x="-9.5" y="75">400</tspan><tspan x="-9.5" y="150">0</tspan><tspan x="-9.5" y="225">400</tspan><tspan x="-9.5" y="300">800</tspan></text><text class="xt"><tspan x="0" y="317">800</tspan><tspan x="75" y="317">400</tspan><tspan x="150" y="317">0</tspan><tspan x="225" y="317">400</tspan><tspan x="300" y="317">800</tspan><tspan x="150" y="335.5">km</tspan></text><text class="xt" transform="translate(-51,150) rotate(-90)">km</text></g>
<g transform="translate(2165,819.5)"><use href="#shs"/><use href="#fr"/><text class="ti" x="150" y="-14">SHAP Value=0.06212</text><text class="yt"><tspan x="-9.5" y="0">800</tspan><tspan x="-9.5" y="75">400</tspan><tspan x="-9.5" y="150">0</tspan><tspan x="-9.5" y="225">400</tspan><tspan x="-9.5" y="300">800</tspan></text><text class="xt"><tspan x="0" y="317">800</tspan><tspan x="75" y="317">400</tspan><tspan x="150" y="317">0</tspan><tspan x="225" y="317">400</tspan><tspan x="300" y="317">800</tspan><tspan x="150" y="335.5">km</tspan></text><text class="xt" transform="translate(-51,150) rotate(-90)">km</text></g>
<!-- row 4 -->
<g transform="translate(1415,1194.5)"><use href="#ir"/><use href="#fr"/><text class="ti" x="150" y="-14">IR Data</text><text class="yt"><tspan x="-9.5" y="0">800</tspan><tspan x="-9.5" y="75">400</tspan><tspan x="-9.5" y="150">0</tspan><tspan x="-9.5" y="225">400</tspan><tspan x="-9.5" y="300">800</tspan></text><text class="xt"><tspan x="0" y="317">800</tspan><tspan x="75" y="317">400</tspan><tspan x="150" y="317">0</tspan><tspan x="225" y="317">400</tspan><tspan x="300" y="317">800</tspan><tspan x="150" y="335.5">km</tspan></text><text class="xt" transform="translate(-51,150) rotate(-90)">km</text></g>
<g transform="translate(1790,1194.5)"><use href="#nir"/><use href="#fr"/><text class="ti" x="150" y="-14">Normalized IR Data</text><text class="yt"><tspan x="-9.5" y="0">800</tspan><tspan x="-9.5" y="75">400</tspan><tspan x="-9.5" y="150">0</tspan><tspan x="-9.5" y="225">400</tspan><tspan x="-9.5" y="300">800</tspan></text><text class="xt"><tspan x="0" y="317">800</tspan><tspan x="75" y="317">400</tspan><tspan x="150" y="317">0</tspan><tspan x="225" y="317">400</tspan><tspan x="300" y="317">800</tspan><tspan x="150" y="335.5">km</tspan></text><text class="xt" transform="translate(-51,150) rotate(-90)">km</text></g>
<g transform="translate(2165,1194.5)"><use href="#shf"/><use href="#fr"/><text class="ti" x="150" y="-14">SHAP Value=0.02307</text><text class="yt"><tspan x="-9.5" y="0">800</tspan><tspan x="-9.5" y="75">400</tspan><tspan x="-9.5" y="150">0</tspan><tspan x="-9.5" y="225">400</tspan><tspan x="-9.5" y="300">800</tspan></text><text class="xt"><tspan x="0" y="317">800</tspan><tspan x="75" y="317">400</tspan><tspan x="150" y="317">0</tspan><tspan x="225" y="317">400</tspan><tspan x="300" y="317">800</tspan><tspan x="150" y="335.5">km</tspan></text><text class="xt" transform="translate(-51,150) rotate(-90)">km</text></g>
<!-- row 5 -->
<g transform="translate(1415,1569.5)"><use href="#ir"/><use href="#fr"/><text class="ti" x="150" y="-14">IR Data</text><text class="yt"><tspan x="-9.5" y="0">800</tspan><tspan x="-9.5" y="75">400</tspan><tspan x="-9.5" y="150">0</tspan><tspan x="-9.5" y="225">400</tspan><tspan x="-9.5" y="300">800</tspan></text><text class="xt"><tspan x="0" y="317">800</tspan><tspan x="75" y="317">400</tspan><tspan x="150" y="317">0</tspan><tspan x="225" y="317">400</tspan><tspan x="300" y="317">800</tspan><tspan x="150" y="335.5">km</tspan></text><text class="xt" transform="translate(-51,150) rotate(-90)">km</text></g>
<g transform="translate(1790,1569.5)"><use href="#nir"/><use href="#fr"/><text class="ti" x="150" y="-14">Normalized IR Data</text><text class="yt"><tspan x="-9.5" y="0">800</tspan><tspan x="-9.5" y="75">400</tspan><tspan x="-9.5" y="150">0</tspan><tspan x="-9.5" y="225">400</tspan><tspan x="-9.5" y="300">800</tspan></text><text class="xt"><tspan x="0" y="317">800</tspan><tspan x="75" y="317">400</tspan><tspan x="150" y="317">0</tspan><tspan x="225" y="317">400</tspan><tspan x="300" y="317">800</tspan><tspan x="150" y="335.5">km</tspan></text><text class="xt" transform="translate(-51,150) rotate(-90)">km</text></g>
<g transform="translate(2165,1569.5)"><use href="#shf2"/><use href="#fr"/><text class="ti" x="150" y="-14">SHAP Value=0.03001</text><text class="yt"><tspan x="-9.5" y="0">800</tspan><tspan x="-9.5" y="75">400</tspan><tspan x="-9.5" y="150">0</tspan><tspan x="-9.5" y="225">400</tspan><tspan x="-9.5" y="300">800</tspan></text><text class="xt"><tspan x="0" y="317">800</tspan><tspan x="75" y="317">400</tspan><tspan x="150" y="317">0</tspan><tspan x="225" y="317">400</tspan><tspan x="300" y="317">800</tspan><tspan x="150" y="335.5">km</tspan></text><text class="xt" transform="translate(-51,150) rotate(-90)">km</text></g>

<!-- middle colorbars -->
<text class="cbt" x="1565" y="1932">Brightness Temperature [K]</text>
<rect x="1415" y="1944" width="300" height="25" fill="url(#gbt)" stroke="#000" stroke-width="1"/>
<path d="M1415 1969V1973.7M1461.2 1969V1973.7M1507.3 1969V1973.7M1553.5 1969V1973.7M1599.6 1969V1973.7M1645.8 1969V1973.7M1691.9 1969V1973.7" stroke="#000"/>
<text class="cbl"><tspan x="1415" y="1987">180</tspan><tspan x="1461.2" y="1987">200</tspan><tspan x="1507.3" y="1987">220</tspan><tspan x="1553.5" y="1987">240</tspan><tspan x="1599.6" y="1987">260</tspan><tspan x="1645.8" y="1987">280</tspan><tspan x="1691.9" y="1987">300</tspan></text>

<text class="cbt" x="1940" y="1932">Normalized Brightness Temperature [K]</text>
<rect x="1790" y="1944" width="300" height="25" fill="url(#gsei)" stroke="#000" stroke-width="1"/>
<path d="M1803.6 1969V1973.7M1849.1 1969V1973.7M1894.5 1969V1973.7M1940 1969V1973.7M1985.5 1969V1973.7M2030.9 1969V1973.7M2076.4 1969V1973.7" stroke="#000"/>
<text class="cbl"><tspan x="1803.6" y="1987">−3</tspan><tspan x="1849.1" y="1987">−2</tspan><tspan x="1894.5" y="1987">−1</tspan><tspan x="1940" y="1987">0</tspan><tspan x="1985.5" y="1987">1</tspan><tspan x="2030.9" y="1987">2</tspan><tspan x="2076.4" y="1987">3</tspan></text>

<text class="cbt" x="2315" y="1932">SHAP Values</text>
<rect x="2165" y="1944" width="300" height="25" fill="url(#gsei)" stroke="#000" stroke-width="1"/>
<path d="M2165 1969V1973.7M2240 1969V1973.7M2315 1969V1973.7M2390 1969V1973.7M2465 1969V1973.7" stroke="#000"/>
<text class="cbl"><tspan x="2165" y="1987">−2</tspan><tspan x="2240" y="1987">−1</tspan><tspan x="2315" y="1987">0</tspan><tspan x="2390" y="1987">1</tspan><tspan x="2465" y="1987">2</tspan></text>
<text x="2465" y="2004" font-size="13" text-anchor="end" dominant-baseline="central">1e−5</text>

<!-- ================= RIGHT GROUP ================= -->
<text class="big" x="3240" y="16.7" font-size="21.5" textLength="1238" lengthAdjust="spacingAndGlyphs">Comparison of 6h IR difference within 3 degrees SHAP Values for 40kt RI in 24h for Beatriz at 20230630 00UTC</text>

<!-- row 1 -->
<g transform="translate(2565,69.5)"><use href="#t18"/><use href="#fr"/><text class="ti" x="150" y="-14">20230629 at 18UTC</text><text class="yt"><tspan x="-9.5" y="0">164</tspan><tspan x="-9.5" y="75">82</tspan><tspan x="-9.5" y="150">0</tspan><tspan x="-9.5" y="225">82</tspan><tspan x="-9.5" y="300">164</tspan></text><text class="xt"><tspan x="0" y="317">164</tspan><tspan x="75" y="317">82</tspan><tspan x="150" y="317">0</tspan><tspan x="225" y="317">82</tspan><tspan x="300" y="317">164</tspan><tspan x="150" y="335.5">km</tspan></text><text class="xt" transform="translate(-51,150) rotate(-90)">km</text></g>
<g transform="translate(2940,69.5)"><use href="#t00"/><use href="#fr"/><text class="ti" x="150" y="-14">20230630 at 00UTC</text><text class="yt"><tspan x="-9.5" y="0">164</tspan><tspan x="-9.5" y="75">82</tspan><tspan x="-9.5" y="150">0</tspan><tspan x="-9.5" y="225">82</tspan><tspan x="-9.5" y="300">164</tspan></text><text class="xt"><tspan x="0" y="317">164</tspan><tspan x="75" y="317">82</tspan><tspan x="150" y="317">0</tspan><tspan x="225" y="317">82</tspan><tspan x="300" y="317">164</tspan><tspan x="150" y="335.5">km</tspan></text><text class="xt" transform="translate(-51,150) rotate(-90)">km</text></g>
<g transform="translate(3315,69.5)"><use href="#nrm"/><use href="#fr"/><text class="ti" x="150" y="-14">Normalized Data</text><text class="yt"><tspan x="-9.5" y="0">164</tspan><tspan x="-9.5" y="75">82</tspan><tspan x="-9.5" y="150">0</tspan><tspan x="-9.5" y="225">82</tspan><tspan x="-9.5" y="300">164</tspan></text><text class="xt"><tspan x="0" y="317">164</tspan><tspan x="75" y="317">82</tspan><tspan x="150" y="317">0</tspan><tspan x="225" y="317">82</tspan><tspan x="300" y="317">164</tspan><tspan x="150" y="335.5">km</tspan></text><text class="xt" transform="translate(-51,150) rotate(-90)">km</text></g>
<g transform="translate(3690,69.5)"><use href="#shr"/><use href="#fr"/><text class="ti" x="150" y="-14">SHAP Value=-0.02796</text><text class="yt"><tspan x="-9.5" y="0">164</tspan><tspan x="-9.5" y="75">82</tspan><tspan x="-9.5" y="150">0</tspan><tspan x="-9.5" y="225">82</tspan><tspan x="-9.5" y="300">164</tspan></text><text class="xt"><tspan x="0" y="317">164</tspan><tspan x="75" y="317">82</tspan><tspan x="150" y="317">0</tspan><tspan x="225" y="317">82</tspan><tspan x="300" y="317">164</tspan><tspan x="150" y="335.5">km</tspan></text><text class="xt" transform="translate(-51,150) rotate(-90)">km</text></g>
<!-- row 2 -->
<g transform="translate(2565,444.5)"><use href="#t18"/><use href="#fr"/><text class="ti" x="150" y="-14">20230629 at 18UTC</text><text class="yt"><tspan x="-9.5" y="0">164</tspan><tspan x="-9.5" y="75">82</tspan><tspan x="-9.5" y="150">0</tspan><tspan x="-9.5" y="225">82</tspan><tspan x="-9.5" y="300">164</tspan></text><text class="xt"><tspan x="0" y="317">164</tspan><tspan x="75" y="317">82</tspan><tspan x="150" y="317">0</tspan><tspan x="225" y="317">82</tspan><tspan x="300" y="317">164</tspan><tspan x="150" y="335.5">km</tspan></text><text class="xt" transform="translate(-51,150) rotate(-90)">km</text></g>
<g transform="translate(2940,444.5)"><use href="#t00"/><use href="#fr"/><text class="ti" x="150" y="-14">20230630 at 00UTC</text><text class="yt"><tspan x="-9.5" y="0">164</tspan><tspan x="-9.5" y="75">82</tspan><tspan x="-9.5" y="150">0</tspan><tspan x="-9.5" y="225">82</tspan><tspan x="-9.5" y="300">164</tspan></text><text class="xt"><tspan x="0" y="317">164</tspan><tspan x="75" y="317">82</tspan><tspan x="150" y="317">0</tspan><tspan x="225" y="317">82</tspan><tspan x="300" y="317">164</tspan><tspan x="150" y="335.5">km</tspan></text><text class="xt" transform="translate(-51,150) rotate(-90)">km</text></g>
<g transform="translate(3315,444.5)"><use href="#nrm"/><use href="#fr"/><text class="ti" x="150" y="-14">Normalized Data</text><text class="yt"><tspan x="-9.5" y="0">164</tspan><tspan x="-9.5" y="75">82</tspan><tspan x="-9.5" y="150">0</tspan><tspan x="-9.5" y="225">82</tspan><tspan x="-9.5" y="300">164</tspan></text><text class="xt"><tspan x="0" y="317">164</tspan><tspan x="75" y="317">82</tspan><tspan x="150" y="317">0</tspan><tspan x="225" y="317">82</tspan><tspan x="300" y="317">164</tspan><tspan x="150" y="335.5">km</tspan></text><text class="xt" transform="translate(-51,150) rotate(-90)">km</text></g>
<g transform="translate(3690,444.5)"><use href="#shr"/><use href="#fr"/><text class="ti" x="150" y="-14">SHAP Value=-0.02508</text><text class="yt"><tspan x="-9.5" y="0">164</tspan><tspan x="-9.5" y="75">82</tspan><tspan x="-9.5" y="150">0</tspan><tspan x="-9.5" y="225">82</tspan><tspan x="-9.5" y="300">164</tspan></text><text class="xt"><tspan x="0" y="317">164</tspan><tspan x="75" y="317">82</tspan><tspan x="150" y="317">0</tspan><tspan x="225" y="317">82</tspan><tspan x="300" y="317">164</tspan><tspan x="150" y="335.5">km</tspan></text><text class="xt" transform="translate(-51,150) rotate(-90)">km</text></g>
<!-- row 3 -->
<g transform="translate(2565,819.5)"><use href="#t18"/><use href="#fr"/><text class="ti" x="150" y="-14">20230629 at 18UTC</text><text class="yt"><tspan x="-9.5" y="0">164</tspan><tspan x="-9.5" y="75">82</tspan><tspan x="-9.5" y="150">0</tspan><tspan x="-9.5" y="225">82</tspan><tspan x="-9.5" y="300">164</tspan></text><text class="xt"><tspan x="0" y="317">164</tspan><tspan x="75" y="317">82</tspan><tspan x="150" y="317">0</tspan><tspan x="225" y="317">82</tspan><tspan x="300" y="317">164</tspan><tspan x="150" y="335.5">km</tspan></text><text class="xt" transform="translate(-51,150) rotate(-90)">km</text></g>
<g transform="translate(2940,819.5)"><use href="#t00"/><use href="#fr"/><text class="ti" x="150" y="-14">20230630 at 00UTC</text><text class="yt"><tspan x="-9.5" y="0">164</tspan><tspan x="-9.5" y="75">82</tspan><tspan x="-9.5" y="150">0</tspan><tspan x="-9.5" y="225">82</tspan><tspan x="-9.5" y="300">164</tspan></text><text class="xt"><tspan x="0" y="317">164</tspan><tspan x="75" y="317">82</tspan><tspan x="150" y="317">0</tspan><tspan x="225" y="317">82</tspan><tspan x="300" y="317">164</tspan><tspan x="150" y="335.5">km</tspan></text><text class="xt" transform="translate(-51,150) rotate(-90)">km</text></g>
<g transform="translate(3315,819.5)"><use href="#nrm"/><use href="#fr"/><text class="ti" x="150" y="-14">Normalized Data</text><text class="yt"><tspan x="-9.5" y="0">164</tspan><tspan x="-9.5" y="75">82</tspan><tspan x="-9.5" y="150">0</tspan><tspan x="-9.5" y="225">82</tspan><tspan x="-9.5" y="300">164</tspan></text><text class="xt"><tspan x="0" y="317">164</tspan><tspan x="75" y="317">82</tspan><tspan x="150" y="317">0</tspan><tspan x="225" y="317">82</tspan><tspan x="300" y="317">164</tspan><tspan x="150" y="335.5">km</tspan></text><text class="xt" transform="translate(-51,150) rotate(-90)">km</text></g>
<g transform="translate(3690,819.5)"><use href="#shr3"/><use href="#fr"/><text class="ti" x="150" y="-14">SHAP Value=-0.00014</text><text class="yt"><tspan x="-9.5" y="0">164</tspan><tspan x="-9.5" y="75">82</tspan><tspan x="-9.5" y="150">0</tspan><tspan x="-9.5" y="225">82</tspan><tspan x="-9.5" y="300">164</tspan></text><text class="xt"><tspan x="0" y="317">164</tspan><tspan x="75" y="317">82</tspan><tspan x="150" y="317">0</tspan><tspan x="225" y="317">82</tspan><tspan x="300" y="317">164</tspan><tspan x="150" y="335.5">km</tspan></text><text class="xt" transform="translate(-51,150) rotate(-90)">km</text></g>
<!-- row 4 -->
<g transform="translate(2565,1194.5)"><use href="#t18"/><use href="#fr"/><text class="ti" x="150" y="-14">20230629 at 18UTC</text><text class="yt"><tspan x="-9.5" y="0">164</tspan><tspan x="-9.5" y="75">82</tspan><tspan x="-9.5" y="150">0</tspan><tspan x="-9.5" y="225">82</tspan><tspan x="-9.5" y="300">164</tspan></text><text class="xt"><tspan x="0" y="317">164</tspan><tspan x="75" y="317">82</tspan><tspan x="150" y="317">0</tspan><tspan x="225" y="317">82</tspan><tspan x="300" y="317">164</tspan><tspan x="150" y="335.5">km</tspan></text><text class="xt" transform="translate(-51,150) rotate(-90)">km</text></g>
<g transform="translate(2940,1194.5)"><use href="#t00"/><use href="#fr"/><text class="ti" x="150" y="-14">20230630 at 00UTC</text><text class="yt"><tspan x="-9.5" y="0">164</tspan><tspan x="-9.5" y="75">82</tspan><tspan x="-9.5" y="150">0</tspan><tspan x="-9.5" y="225">82</tspan><tspan x="-9.5" y="300">164</tspan></text><text class="xt"><tspan x="0" y="317">164</tspan><tspan x="75" y="317">82</tspan><tspan x="150" y="317">0</tspan><tspan x="225" y="317">82</tspan><tspan x="300" y="317">164</tspan><tspan x="150" y="335.5">km</tspan></text><text class="xt" transform="translate(-51,150) rotate(-90)">km</text></g>
<g transform="translate(3315,1194.5)"><use href="#nrm"/><use href="#fr"/><text class="ti" x="150" y="-14">Normalized Data</text><text class="yt"><tspan x="-9.5" y="0">164</tspan><tspan x="-9.5" y="75">82</tspan><tspan x="-9.5" y="150">0</tspan><tspan x="-9.5" y="225">82</tspan><tspan x="-9.5" y="300">164</tspan></text><text class="xt"><tspan x="0" y="317">164</tspan><tspan x="75" y="317">82</tspan><tspan x="150" y="317">0</tspan><tspan x="225" y="317">82</tspan><tspan x="300" y="317">164</tspan><tspan x="150" y="335.5">km</tspan></text><text class="xt" transform="translate(-51,150) rotate(-90)">km</text></g>
<g transform="translate(3690,1194.5)"><use href="#shr"/><use href="#fr"/><text class="ti" x="150" y="-14">SHAP Value=-0.02099</text><text class="yt"><tspan x="-9.5" y="0">164</tspan><tspan x="-9.5" y="75">82</tspan><tspan x="-9.5" y="150">0</tspan><tspan x="-9.5" y="225">82</tspan><tspan x="-9.5" y="300">164</tspan></text><text class="xt"><tspan x="0" y="317">164</tspan><tspan x="75" y="317">82</tspan><tspan x="150" y="317">0</tspan><tspan x="225" y="317">82</tspan><tspan x="300" y="317">164</tspan><tspan x="150" y="335.5">km</tspan></text><text class="xt" transform="translate(-51,150) rotate(-90)">km</text></g>
<!-- row 5 -->
<g transform="translate(2565,1569.5)"><use href="#t18"/><use href="#fr"/><text class="ti" x="150" y="-14">20230629 at 18UTC</text><text class="yt"><tspan x="-9.5" y="0">164</tspan><tspan x="-9.5" y="75">82</tspan><tspan x="-9.5" y="150">0</tspan><tspan x="-9.5" y="225">82</tspan><tspan x="-9.5" y="300">164</tspan></text><text class="xt"><tspan x="0" y="317">164</tspan><tspan x="75" y="317">82</tspan><tspan x="150" y="317">0</tspan><tspan x="225" y="317">82</tspan><tspan x="300" y="317">164</tspan><tspan x="150" y="335.5">km</tspan></text><text class="xt" transform="translate(-51,150) rotate(-90)">km</text></g>
<g transform="translate(2940,1569.5)"><use href="#t00"/><use href="#fr"/><text class="ti" x="150" y="-14">20230630 at 00UTC</text><text class="yt"><tspan x="-9.5" y="0">164</tspan><tspan x="-9.5" y="75">82</tspan><tspan x="-9.5" y="150">0</tspan><tspan x="-9.5" y="225">82</tspan><tspan x="-9.5" y="300">164</tspan></text><text class="xt"><tspan x="0" y="317">164</tspan><tspan x="75" y="317">82</tspan><tspan x="150" y="317">0</tspan><tspan x="225" y="317">82</tspan><tspan x="300" y="317">164</tspan><tspan x="150" y="335.5">km</tspan></text><text class="xt" transform="translate(-51,150) rotate(-90)">km</text></g>
<g transform="translate(3315,1569.5)"><use href="#nrm"/><use href="#fr"/><text class="ti" x="150" y="-14">Normalized Data</text><text class="yt"><tspan x="-9.5" y="0">164</tspan><tspan x="-9.5" y="75">82</tspan><tspan x="-9.5" y="150">0</tspan><tspan x="-9.5" y="225">82</tspan><tspan x="-9.5" y="300">164</tspan></text><text class="xt"><tspan x="0" y="317">164</tspan><tspan x="75" y="317">82</tspan><tspan x="150" y="317">0</tspan><tspan x="225" y="317">82</tspan><tspan x="300" y="317">164</tspan><tspan x="150" y="335.5">km</tspan></text><text class="xt" transform="translate(-51,150) rotate(-90)">km</text></g>
<g transform="translate(3690,1569.5)"><use href="#shr"/><use href="#fr"/><text class="ti" x="150" y="-14">SHAP Value=-0.03083</text><text class="yt"><tspan x="-9.5" y="0">164</tspan><tspan x="-9.5" y="75">82</tspan><tspan x="-9.5" y="150">0</tspan><tspan x="-9.5" y="225">82</tspan><tspan x="-9.5" y="300">164</tspan></text><text class="xt"><tspan x="0" y="317">164</tspan><tspan x="75" y="317">82</tspan><tspan x="150" y="317">0</tspan><tspan x="225" y="317">82</tspan><tspan x="300" y="317">164</tspan><tspan x="150" y="335.5">km</tspan></text><text class="xt" transform="translate(-51,150) rotate(-90)">km</text></g>

<!-- right colorbars -->
<text class="cbt" x="2902.5" y="1932">Brightness Temperature [K]</text>
<rect x="2565" y="1944" width="675" height="25" fill="url(#gbt)" stroke="#000" stroke-width="1"/>
<path d="M2565 1969V1973.7M2668.8 1969V1973.7M2772.7 1969V1973.7M2876.5 1969V1973.7M2980.4 1969V1973.7M3084.2 1969V1973.7M3188.1 1969V1973.7" stroke="#000"/>
<text class="cbl"><tspan x="2565" y="1987">180</tspan><tspan x="2668.8" y="1987">200</tspan><tspan x="2772.7" y="1987">220</tspan><tspan x="2876.5" y="1987">240</tspan><tspan x="2980.4" y="1987">260</tspan><tspan x="3084.2" y="1987">280</tspan><tspan x="3188.1" y="1987">300</tspan></text>

<text class="cbt" x="3465" y="1932">Normalized Brightness Temperature [K]</text>
<rect x="3315" y="1944" width="300" height="25" fill="url(#gsei)" stroke="#000" stroke-width="1"/>
<path d="M3347.4 1969V1973.7M3406.2 1969V1973.7M3465 1969V1973.7M3523.8 1969V1973.7M3582.6 1969V1973.7" stroke="#000"/>
<text class="cbl"><tspan x="3347.4" y="1987">−2</tspan><tspan x="3406.2" y="1987">−1</tspan><tspan x="3465" y="1987">0</tspan><tspan x="3523.8" y="1987">1</tspan><tspan x="3582.6" y="1987">2</tspan></text>

<text class="cbt" x="3840" y="1932">SHAP Values</text>
<rect x="3690" y="1944" width="300" height="25" fill="url(#gsei)" stroke="#000" stroke-width="1"/>
<path d="M3693.9 1969V1973.7M3742.6 1969V1973.7M3791.3 1969V1973.7M3840 1969V1973.7M3888.7 1969V1973.7M3937.4 1969V1973.7M3986.1 1969V1973.7" stroke="#000"/>
<text class="cbl"><tspan x="3693.9" y="1987">−0.0015</tspan><tspan x="3742.6" y="1987">−0.0010</tspan><tspan x="3791.3" y="1987">−0.0005</tspan><tspan x="3840" y="1987">0.0000</tspan><tspan x="3888.7" y="1987">0.0005</tspan><tspan x="3937.4" y="1987">0.0010</tspan><tspan x="3986.1" y="1987">0.0015</tspan></text>
</svg>
</body></html>
